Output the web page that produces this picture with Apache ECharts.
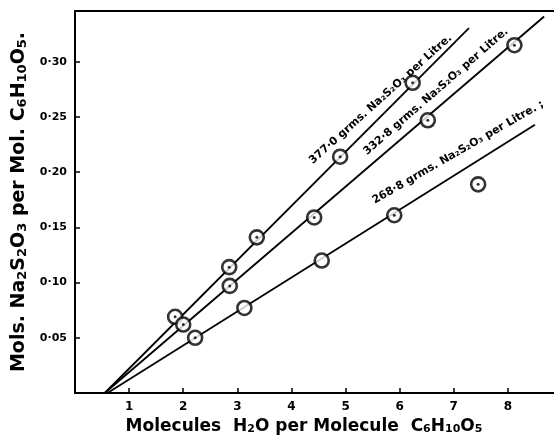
<!DOCTYPE html>
<html><head><meta charset="utf-8">
<script src="https://cdn.jsdelivr.net/npm/echarts@6/dist/echarts.min.js"></script>
<style>html,body{margin:0;padding:0;background:#fff}#c{width:554px;height:440px}</style>
</head><body><div id="c"></div>
<script>
// Data points (x: molecules H2O per molecule C6H10O5, y: mols Na2S2O3 per mol C6H10O5)
const pts377 = [[1.85,0.069],[2.85,0.114],[3.36,0.141],[4.90,0.214],[6.24,0.281]];
const pts332 = [[2.00,0.062],[2.86,0.097],[4.42,0.159],[6.52,0.247],[8.12,0.315]];
const pts268 = [[2.22,0.050],[3.13,0.077],[4.56,0.120],[5.90,0.161],[7.45,0.189]];
// Fitted straight lines (endpoints)
const line377 = [[0.55,0],[7.28,0.3305]];
const line332 = [[0.55,0],[8.67,0.341]];
const line268 = [[0.60,0],[8.50,0.243]];
// Line labels
const labels = ['377·0 grms. Na₂S₂O₃ per Litre.','332·8 grms. Na₂S₂O₃ per Litre.','268·8 grms. Na₂S₂O₃ per Litre. ;'];
const labelAnchors = [[5.65,0.266],[6.67,0.273],[7.08,0.218]];
const labelAngles = [42,41,30];
const xTicks = [1,2,3,4,5,6,7,8];
const yTicks = [0.05,0.10,0.15,0.20,0.25,0.30];
const xName = 'Molecules  H₂O per Molecule  C₆H₁₀O₅';
const yName = 'Mols. Na₂S₂O₃ per Mol. C₆H₁₀O₅.';

const font = 'DejaVu Sans';
const subMap = {'₀':'0','₁':'1','₂':'2','₃':'3','₅':'5','₆':'6'};
function toRich(s){
  return s.replace(/[₀₁₂₃₅₆]+/g, m => '{s|' + m.split('').map(c=>subMap[c]).join('') + '}');
}
const chart = echarts.init(document.getElementById('c'));
function lineSeries(d, i){
  return {type:'line', data:d, symbol:'none', lineStyle:{color:'#000',width:1.8}, z:2,
    markPoint:{symbol:'circle', symbolSize:0, data:[{coord:labelAnchors[i], value:labels[i]}],
      label:{show:true, formatter:labels[i], rotate:labelAngles[i], color:'#000', fontFamily:font,
        fontWeight:'bold', fontSize:11, position:'inside'}}};
}
function ptSeries(d){
  return {type:'scatter', data:d, symbol:'circle', symbolSize:14, z:5,
    itemStyle:{color:'#fff', borderColor:'#000', borderWidth:2.6}};
}
const dots = pts377.concat(pts332, [pts268[0], pts268[3], pts268[4]]);
chart.setOption({
  animation:false,
  backgroundColor:'#fff',
  grid:{left:75, width:487, top:11, height:382, outerBoundsMode:'none', containLabel:false},
  xAxis:[{type:'value', min:0, max:9, interval:1,
    axisLine:{lineStyle:{color:'#000',width:2}},
    axisTick:{inside:true, length:5, lineStyle:{color:'#000',width:1.5}},
    splitLine:{show:false},
    axisLabel:{color:'#000', fontFamily:font, fontWeight:'bold', fontSize:12, margin:8,
      formatter:v=> xTicks.includes(v)? String(v):''},
    name:toRich(xName), nameLocation:'middle', nameGap:23,
    nameTextStyle:{color:'#000', fontFamily:font, fontWeight:'bold', fontSize:17, verticalAlign:'top', padding:[0,29,0,0],
      rich:{s:{fontSize:11, fontFamily:font, fontWeight:'bold', color:'#000', verticalAlign:'bottom', padding:[5,0,0,0]}}}},
   {type:'value', position:'top', min:0, max:9, axisLine:{show:true,lineStyle:{color:'#000',width:2}},
    axisTick:{show:false}, axisLabel:{show:false}, splitLine:{show:false}}],
  yAxis:{type:'value', min:0, max:0.346, interval:0.05,
    axisLine:{show:true, lineStyle:{color:'#000',width:2}},
    axisTick:{show:true, inside:true, length:5, lineStyle:{color:'#000',width:1.5}},
    splitLine:{show:false},
    axisLabel:{color:'#000', fontFamily:font, fontWeight:'bold', fontSize:11, margin:8,
      formatter:v=>{const t=yTicks.find(k=>Math.abs(k-v)<1e-6); return t? t.toFixed(2).replace('.','·'):'';}},
    name:toRich(yName), nameLocation:'middle', nameGap:42, nameRotate:90,
    nameTextStyle:{color:'#000', fontFamily:font, fontWeight:'bold', fontSize:19,
      rich:{s:{fontSize:13, fontFamily:font, fontWeight:'bold', color:'#000', verticalAlign:'bottom', padding:[5,0,0,0]}}}},
  series:[lineSeries(line377,0), lineSeries(line332,1), lineSeries(line268,2),
    ptSeries(pts377), ptSeries(pts332), ptSeries(pts268),
    {type:'scatter', data:dots, symbol:'circle', symbolSize:3, z:6, itemStyle:{color:'#000'}}]
});
</script></body></html>
